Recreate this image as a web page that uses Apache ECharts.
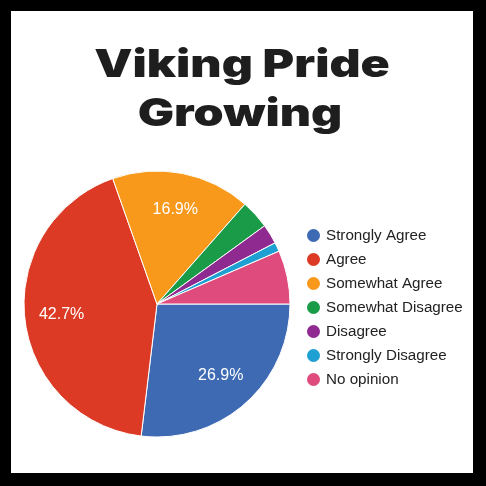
<!DOCTYPE html>
<html>
<head>
<meta charset="utf-8">
<script src="https://cdn.jsdelivr.net/npm/echarts@6/dist/echarts.min.js"></script>
<style>
html,body{margin:0;padding:0;background:#000;}
#chart{width:486px;height:486px;}
</style>
</head>
<body>
<div id="chart"></div>
<script>
var titleLines = ['Viking Pride', 'Growing'];
var categories = ['Strongly Agree','Agree','Somewhat Agree','Somewhat Disagree','Disagree','Strongly Disagree','No opinion'];
var values = [26.9, 42.7, 16.9, 3.5, 2.4, 1.1, 6.5];
var colors = ['#3e6ab4','#dc3a24','#f8991c','#1a9b48','#8e2a90','#1fa0d2','#de4b7c'];
var labelThreshold = 10;

var chart = echarts.init(document.getElementById('chart'), null, {renderer:'canvas'});
var mainData = categories.map(function(c,i){ return {name:c, value:values[i], itemStyle:{color:colors[i]}}; });
var labelData = categories.map(function(c,i){ return {name:c, value:values[i], label:{show: values[i] >= labelThreshold}}; });

var titleFont = {fontFamily:'Inter', fontWeight:900, fontSize:38, fill:'#1e1e1e', align:'center', verticalAlign:'middle'};
chart.setOption({
  backgroundColor:'#000',
  animation:false,
  graphic:[
    {type:'rect', shape:{x:11,y:11,width:462,height:462}, style:{fill:'#fff'}, z:-10, silent:true},
    {type:'text', x:242, y:66, scaleX:1.27, style:Object.assign({text:titleLines[0]}, titleFont), silent:true},
    {type:'text', x:240, y:115, scaleX:1.27, style:Object.assign({text:titleLines[1]}, titleFont), silent:true}
  ],
  legend:{
    orient:'vertical', left:305, top:227, padding:0,
    icon:'circle', itemWidth:15, itemHeight:15, itemGap:7,
    textStyle:{fontFamily:'Liberation Sans', fontSize:15.2, color:'#222'},
    data:categories
  },
  series:[
    {
      type:'pie', center:[157,304], radius:[0,133], startAngle:0, clockwise:true,
      label:{show:false}, labelLine:{show:false},
      itemStyle:{borderColor:'#fff', borderWidth:1},
      emphasis:{disabled:true},
      data:mainData
    },
    {
      type:'pie', center:[157,304], radius:[0,186], startAngle:0, clockwise:true,
      silent:true, legendHoverLink:false,
      itemStyle:{color:'rgba(0,0,0,0)', borderWidth:0},
      label:{position:'inside', formatter:function(p){return p.value.toFixed(1)+'%';}, color:'#fff', fontFamily:'Liberation Sans', fontSize:16},
      labelLine:{show:false},
      emphasis:{disabled:true},
      data:labelData
    }
  ]
});
</script>
</body>
</html>
